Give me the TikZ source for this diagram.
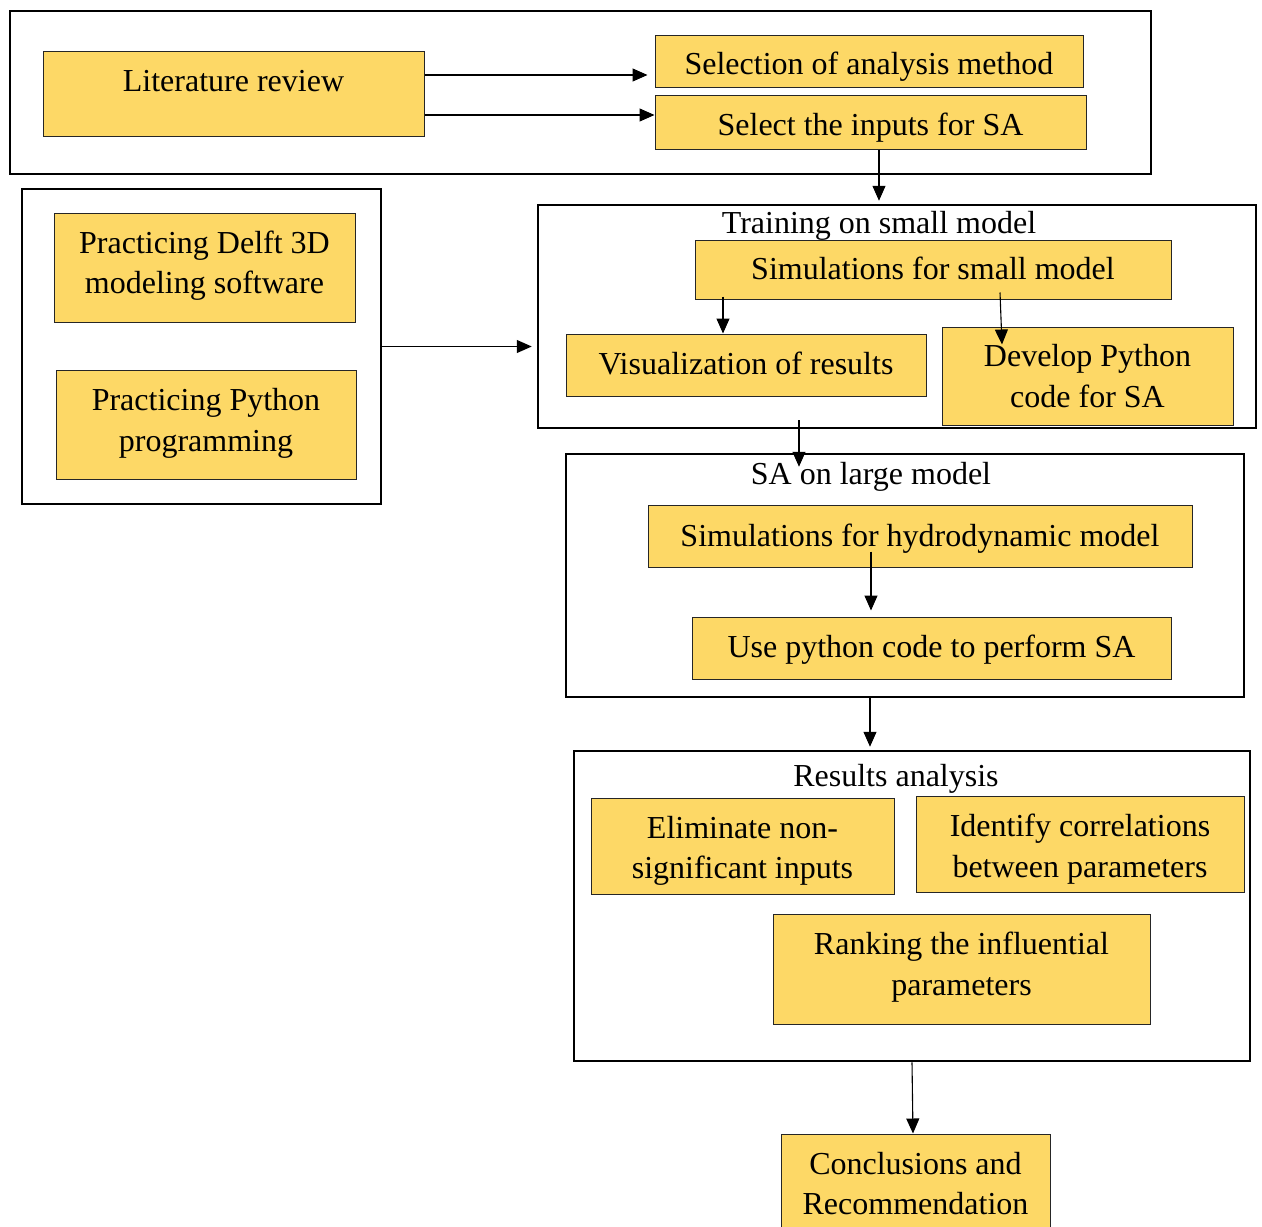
\documentclass[tikz,border=0pt]{standalone}
\usepackage{fontspec}
\setmainfont{Liberation Serif}
\usetikzlibrary{arrows.meta,calc}
\definecolor{boxfill}{RGB}{253,216,102}
\tikzset{
  ybox/.style={draw=black!85, line width=1pt, fill=boxfill, inner sep=0pt},
  btxt/.style={inner sep=0pt, align=center, font=\fontsize{32}{40.5}\selectfont},
  group/.style={draw=black, line width=2.5pt, inner sep=0pt},
  ttl/.style={inner sep=0pt, font=\fontsize{32}{40.5}\selectfont},
  arr/.style={line width=1.1pt, -{Triangle[length=15pt,width=13pt]}}
}
\begin{document}
\begin{tikzpicture}[x=1pt,y=-1pt]
\useasboundingbox (0,0) rectangle (1262,1227);
\clip (0,0) rectangle (1262,1227);
\fill[white] (0,0) rectangle (1262,1227);
% group boxes
\node[group, minimum width=1141, minimum height=163] (top) at (580.5,92.5) {};
\node[group, minimum width=359, minimum height=315] (left) at (201.5,346.5) {};
\node[group, minimum width=718, minimum height=223] (train) at (897,316.5) {};
\node[group, minimum width=678, minimum height=243] (salarge) at (905,575.5) {};
\node[group, minimum width=676, minimum height=310] (results) at (912,906) {};
% titles
\node[ttl] (ttrain) at (879,226) {Training on small model};
\node[ttl] (tsa) at (871,477) {SA on large model};
\node[ttl] (tres) at (896,779) {Results analysis};
% yellow boxes
\node[ybox, minimum width=381, minimum height=85] (lit) at (233.5,93.5) {};
\node[ttl] (littxt) at (233.5,81) {Literature review};
\node[ybox, minimum width=428, minimum height=52,
  label={[btxt,yshift=-6pt]center:Selection of analysis method}] (sel) at (869,61) {};
\node[ybox, minimum width=431, minimum height=54,
  label={[btxt,yshift=-6pt]center:Select the inputs for SA}] (inp) at (870.5,122) {};
\node[ybox, minimum width=301, minimum height=109,
  label={[btxt,yshift=2pt]center:Practicing Delft 3D\\modeling software}] (delft) at (204.5,267.5) {};
\node[ybox, minimum width=300, minimum height=109,
  label={[btxt,yshift=1pt]center:Practicing Python\\programming}] (pyprac) at (206,424.5) {};
\node[ybox, minimum width=476, minimum height=59,
  label={[btxt,yshift=1pt]center:Simulations for small model}] (simsmall) at (933,269.5) {};
\node[ybox, minimum width=360, minimum height=62,
  label={[btxt,yshift=2pt]center:Visualization of results}] (vis) at (746,365) {};
\node[ybox, minimum width=291, minimum height=98,
  label={[btxt]center:Develop Python\\code for SA}] (dev) at (1087.5,376) {};
\node[ybox, minimum width=544, minimum height=62,
  label={[btxt,yshift=-3pt]center:Simulations for hydrodynamic model}] (simhyd) at (920,536) {};
\node[ybox, minimum width=479, minimum height=62,
  label={[btxt,yshift=-2pt]center:Use python code to perform SA}] (usepy) at (931.5,648) {};
\node[ybox, minimum width=303, minimum height=96,
  label={[btxt,yshift=-5pt]center:Eliminate non-\\significant inputs}] (elim) at (742.5,846) {};
\node[ybox, minimum width=328, minimum height=96,
  label={[btxt,yshift=-5pt]center:Identify correlations\\between parameters}] (ident) at (1080,844) {};
\node[ybox, minimum width=377, minimum height=110,
  label={[btxt,yshift=2pt]center:Ranking the influential\\parameters}] (rank) at (961.5,969) {};
\node[ybox, minimum width=269, minimum height=102,
  label={[btxt,yshift=1.5pt]center:Conclusions and\\Recommendation}] (concl) at (915.5,1185) {};
% arrows
\draw[arr] ($(lit.east)+(0,-18.5)$) -- ($(sel.west)+(-7,14)$);
\draw[arr] ($(lit.east)+(0,21.5)$) -- ($(inp.west)+(0,-7)$);
\draw[arr] ($(inp.south)+(8.5,0)$) coordinate (a0) -- ($(a0 |- train.north)+(0,-3)$);
\draw[arr] (left.east) -- ($(train.west |- left.east)+(-5,0)$);
\draw[arr] ($(simsmall.south)+(-210,-3)$) coordinate (a1) -- (a1 |- vis.north);
\draw[arr] ($(simsmall.south)+(67,-7)$) -- ($(dev.north)+(-85.5,18)$);
\draw[arr] ($(train.south)+(-98,-9)$) coordinate (a3) -- ($(a3 |- salarge.north)+(0,14)$);
\draw[arr] ($(simhyd.south)+(-49,-16)$) coordinate (a4) -- ($(a4 |- usepy.north)+(0,-6)$);
\draw[arr] ($(salarge.south)+(-35,0)$) coordinate (a5) -- ($(a5 |- results.north)+(0,-3)$);
\draw[arr] (results.south) -- ($(concl.north)+(-2.5,0)$);
\end{tikzpicture}
\end{document}
